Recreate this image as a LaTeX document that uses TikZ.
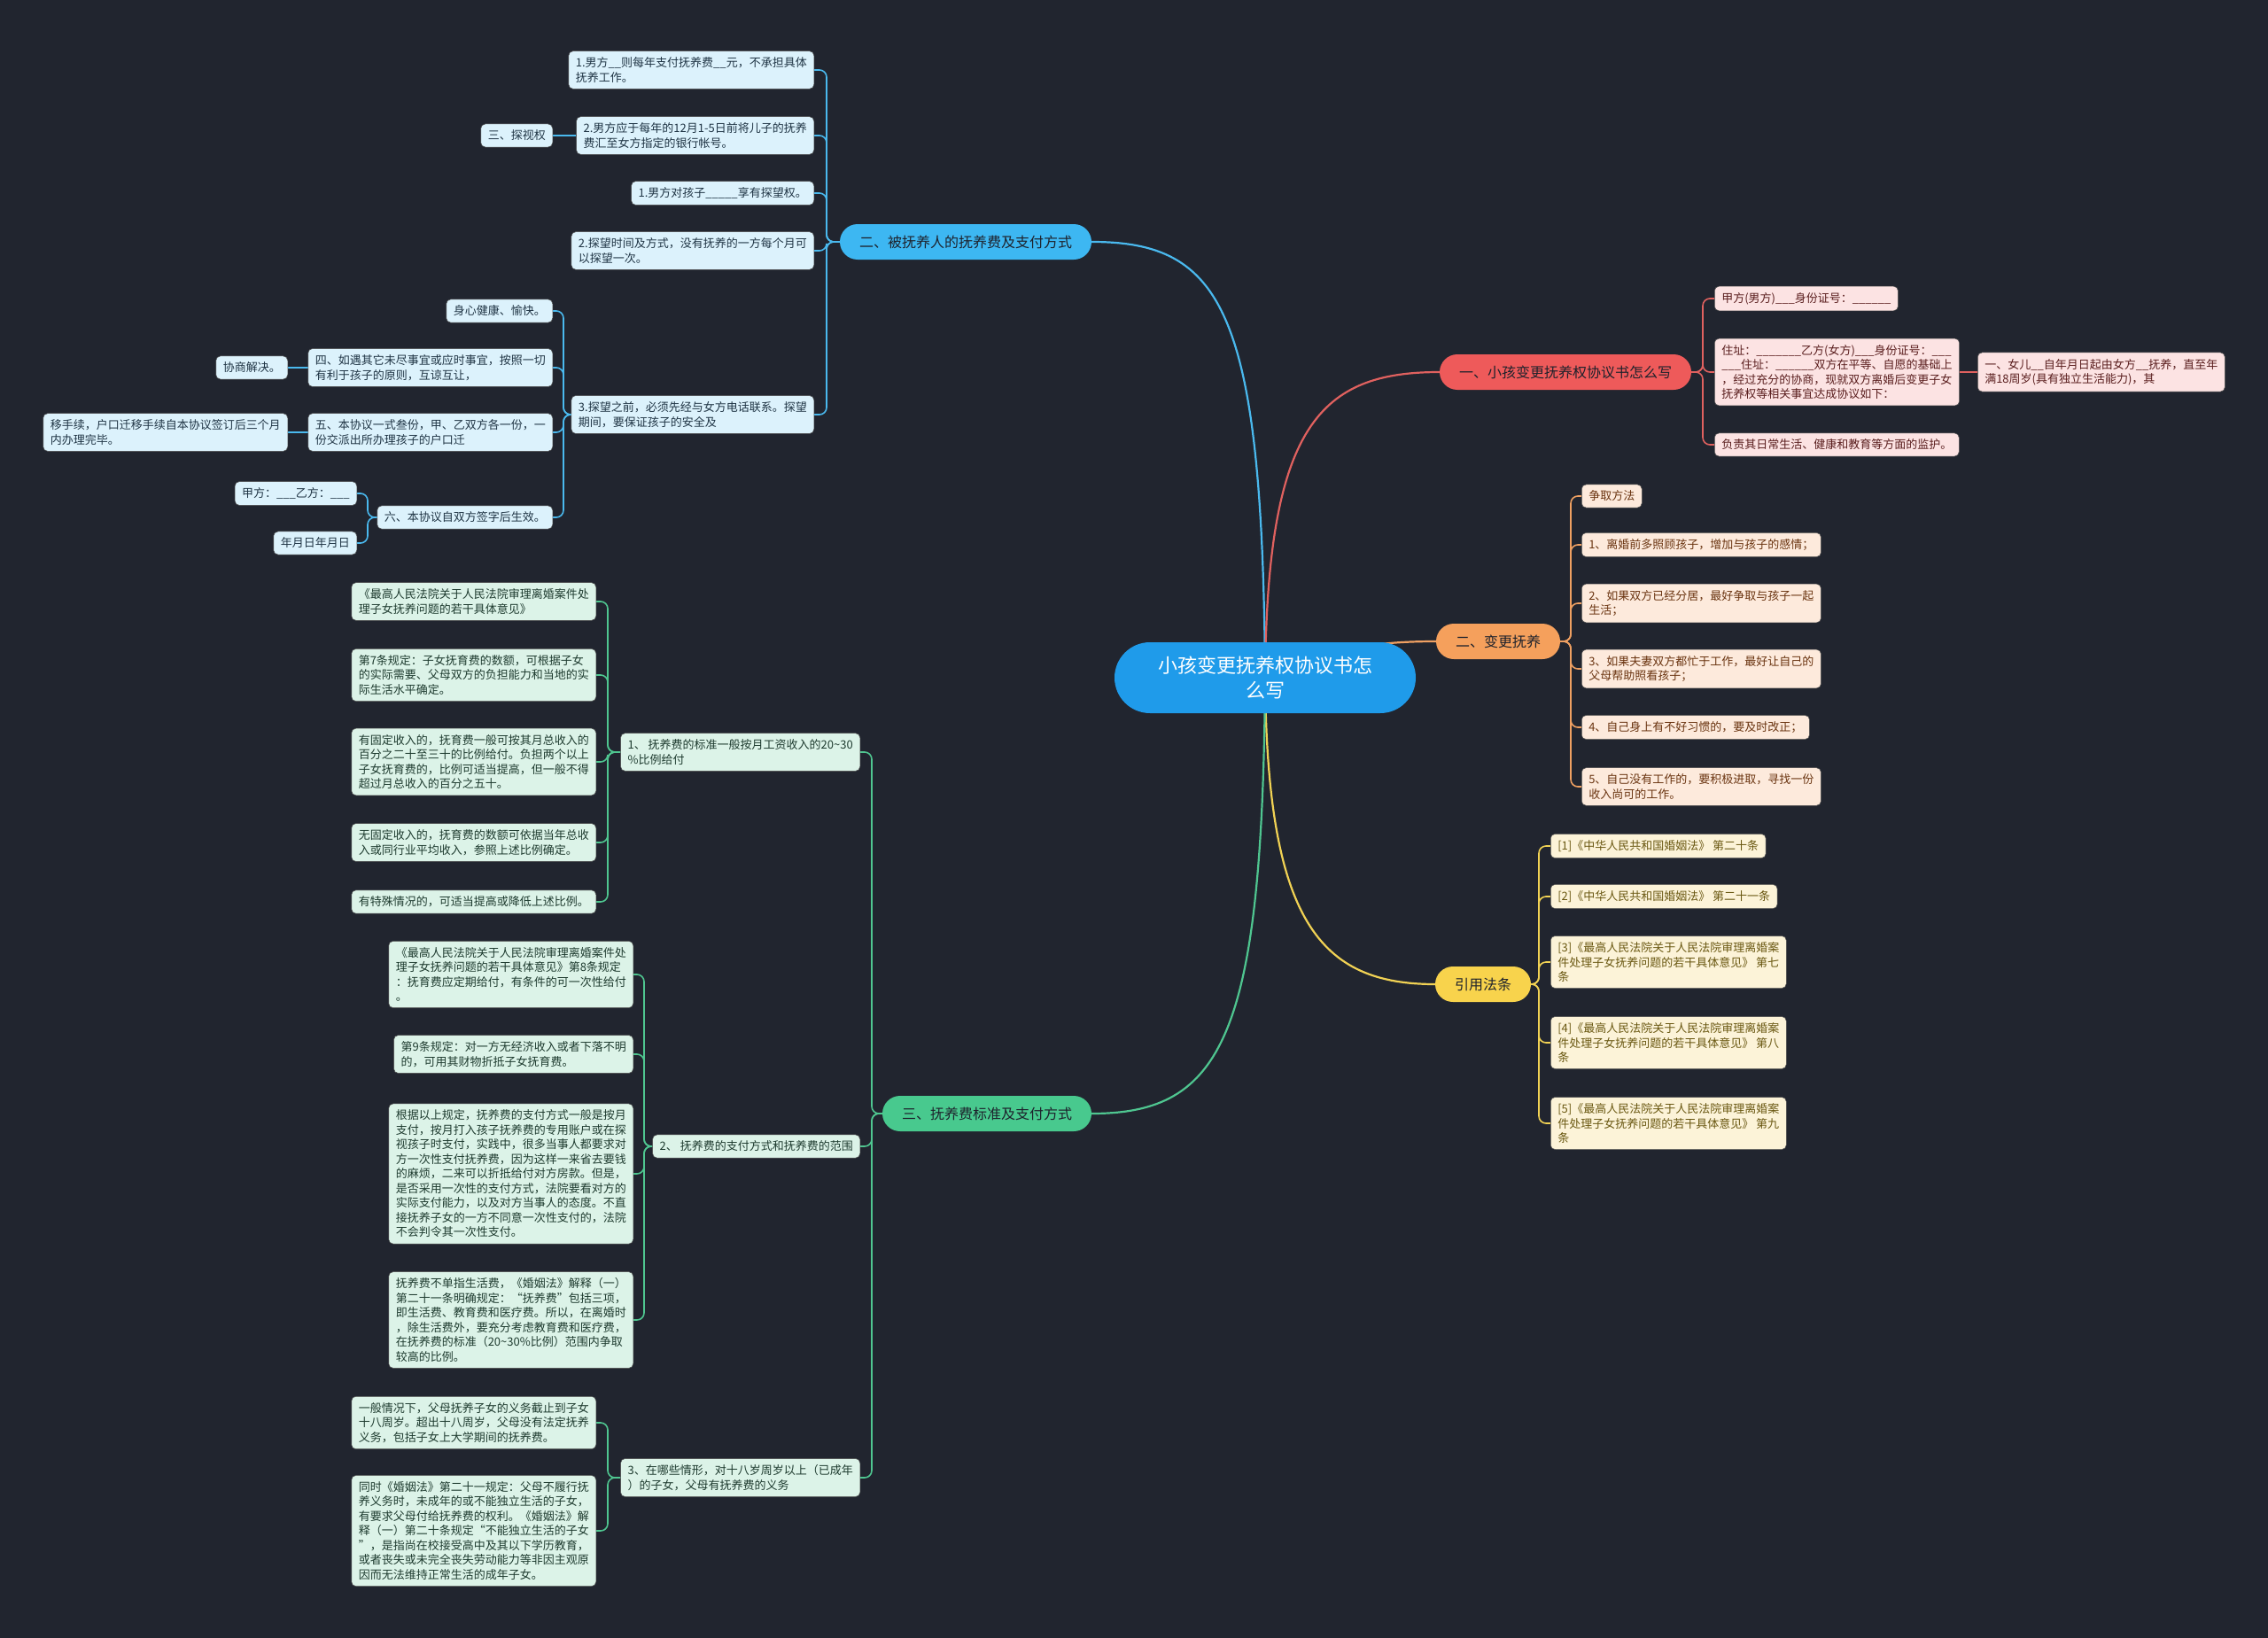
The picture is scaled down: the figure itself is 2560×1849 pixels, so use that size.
\documentclass[tikz,border=0pt]{standalone}
\usepackage{fontspec}
\setmainfont{Noto Sans CJK SC}
\usetikzlibrary{calc}
\pgfdeclarelayer{back}
\pgfdeclarelayer{bg}
\pgfsetlayers{back,bg,main}
\definecolor{bgc}{HTML}{21252F}
\definecolor{rootc}{HTML}{1F9BEA}
\definecolor{dk}{HTML}{1E222C}
\definecolor{blN}{HTML}{3DB7F2}\definecolor{blE}{HTML}{4AB9EE}\definecolor{blF}{HTML}{DCF2FC}\definecolor{blT}{HTML}{203545}
\definecolor{rdN}{HTML}{EE5A5A}\definecolor{rdE}{HTML}{E0615F}\definecolor{rdF}{HTML}{FCE3E3}\definecolor{rdT}{HTML}{5A1E1E}
\definecolor{orN}{HTML}{F5A05C}\definecolor{orE}{HTML}{EFA062}\definecolor{orF}{HTML}{FDEADC}\definecolor{orT}{HTML}{6A3410}
\definecolor{ylN}{HTML}{F8D34C}\definecolor{ylE}{HTML}{F1D254}\definecolor{ylF}{HTML}{FCF3D8}\definecolor{ylT}{HTML}{6A5812}
\definecolor{gnN}{HTML}{48C98E}\definecolor{gnE}{HTML}{4FC690}\definecolor{gnF}{HTML}{DCF3E8}\definecolor{gnT}{HTML}{1E3B2F}
\newcommand\linkR[4]{\draw[#1] (#2.east) -- (#2.east -| #3) |- (#4.west);}
\newcommand\linkL[4]{\draw[#1] (#2.west) -- (#2.west -| #3) |- (#4.east);}
\tikzset{
  leaf/.style={rectangle, rounded corners=5pt, inner xsep=8pt, inner ysep=7pt, align=left,
    font=\fontsize{13}{16.5}\selectfont, draw=black!70, line width=0.5pt},
  lB/.style={leaf, fill=blF, text=blT},
  lR/.style={leaf, fill=rdF, text=rdT},
  lO/.style={leaf, fill=orF, text=orT},
  lY/.style={leaf, fill=ylF, text=ylT},
  lG/.style={leaf, fill=gnF, text=gnT},
  main/.style={rectangle, rounded corners=20pt, minimum height=40pt, inner xsep=22pt, inner ysep=4pt,
    font=\fontsize{16}{20}\selectfont, text=dk},
  rootbox/.style={rectangle, rounded corners=40pt, minimum width=340pt, minimum height=80pt,
    fill=rootc, text=white, align=center, font=\fontsize{22}{28}\selectfont},
  eB/.style={draw=blE, line width=1.6pt, rounded corners=8pt},
  eR/.style={draw=rdE, line width=1.6pt, rounded corners=8pt},
  eO/.style={draw=orE, line width=1.6pt, rounded corners=8pt},
  eY/.style={draw=ylE, line width=1.6pt, rounded corners=8pt},
  eG/.style={draw=gnE, line width=1.6pt, rounded corners=8pt},
  big/.style={line width=2.2pt}
}
\begin{document}
\begin{tikzpicture}[x=1pt,y=-1pt]
\begin{pgfonlayer}{back}
\fill[bgc] (0,0) rectangle (2560,1849);
\end{pgfonlayer}
\useasboundingbox (0,0) rectangle (2560,1849);

% root
\node[rootbox] (root) at (1428,765) {小孩变更抚养权协议书怎\\么写};

% main branches
\node[main, fill=blN] (nB) at (1090,273) {二、被抚养人的抚养费及支付方式};
\node[main, fill=rdN] (nR) at (1767,420) {一、小孩变更抚养权协议书怎么写};
\node[main, fill=orN] (nO) at (1691,724) {二、变更抚养};
\node[main, fill=ylN] (nY) at (1674,1111) {引用法条};
\node[main, fill=gnN] (nG) at (1114,1257) {三、抚养费标准及支付方式};

% trunk coordinates
\coordinate (tB) at (933,0);
\coordinate (tB5) at (636,0);
\coordinate (tB6) at (415,0);
\coordinate (tR) at (1922,0);
\coordinate (tO) at (1773,0);
\coordinate (tY) at (1737,0);
\coordinate (tG) at (984,0);
\coordinate (tG1) at (686,0);
\coordinate (tG2) at (727,0);
\coordinate (tG3) at (686,0);

% blue branch
\node[lB, anchor=east] (b1) at (919,79) {1.男方\_\_则每年支付抚养费\_\_元，不承担具体\\抚养工作。};
\node[lB, anchor=east] (b2) at (919,153) {2.男方应于每年的12月1-5日前将儿子的抚养\\费汇至女方指定的银行帐号。};
\node[lB, anchor=east] (b2L) at (624,153) {三、探视权};
\node[lB, anchor=east] (b3) at (919,218) {1.男方对孩子\_\_\_\_\_享有探望权。};
\node[lB, anchor=east] (b4) at (919,283) {2.探望时间及方式，没有抚养的一方每个月可\\以探望一次。};
\node[lB, anchor=east] (b5) at (919,468) {3.探望之前，必须先经与女方电话联系。探望\\期间，要保证孩子的安全及};
\node[lB, anchor=east] (b5a) at (624,351) {身心健康、愉快。};
\node[lB, anchor=east] (b5b) at (624,415) {四、如遇其它未尽事宜或应时事宜，按照一切\\有利于孩子的原则，互谅互让，};
\node[lB, anchor=east] (b5bL) at (325,415) {协商解决。};
\node[lB, anchor=east] (b5c) at (624,488) {五、本协议一式叁份，甲、乙双方各一份，一\\份交派出所办理孩子的户口迁};
\node[lB, anchor=east] (b5cL) at (325,488) {移手续，户口迁移手续自本协议签订后三个月\\内办理完毕。};
\node[lB, anchor=east] (b5d) at (624,584) {六、本协议自双方签字后生效。};
\node[lB, anchor=east] (b5d1) at (403,557) {甲方：\_\_\_乙方：\_\_\_};
\node[lB, anchor=east] (b5d2) at (403,613) {年月日年月日};

% red branch
\node[lR, anchor=west] (r1) at (1935,337) {甲方(男方)\_\_\_身份证号：\_\_\_\_\_\_};
\node[lR, anchor=west] (r2) at (1935,420) {住址：\_\_\_\_\_\_\_乙方(女方)\_\_\_身份证号：\_\_\_\\\_\_\_住址：\_\_\_\_\_\_双方在平等、自愿的基础上\\，经过充分的协商，现就双方离婚后变更子女\\抚养权等相关事宜达成协议如下：};
\node[lR, anchor=west] (r2R) at (2232,420) {一、女儿\_\_自年月日起由女方\_\_抚养，直至年\\满18周岁(具有独立生活能力)，其};
\node[lR, anchor=west] (r3) at (1935,502) {负责其日常生活、健康和教育等方面的监护。};

% orange branch
\node[lO, anchor=west] (o1) at (1785,560) {争取方法};
\node[lO, anchor=west] (o2) at (1785,615) {1、离婚前多照顾孩子，增加与孩子的感情；};
\node[lO, anchor=west] (o3) at (1785,681) {2、如果双方已经分居，最好争取与孩子一起\\生活；};
\node[lO, anchor=west] (o4) at (1785,755) {3、如果夫妻双方都忙于工作，最好让自己的\\父母帮助照看孩子；};
\node[lO, anchor=west] (o5) at (1785,821) {4、自己身上有不好习惯的，要及时改正；};
\node[lO, anchor=west] (o6) at (1785,888) {5、自己没有工作的，要积极进取，寻找一份\\收入尚可的工作。};

% yellow branch
\node[lY, anchor=west] (y1) at (1750,955) {[1]《中华人民共和国婚姻法》 第二十条};
\node[lY, anchor=west] (y2) at (1750,1012) {[2]《中华人民共和国婚姻法》 第二十一条};
\node[lY, anchor=west] (y3) at (1750,1086) {[3]《最高人民法院关于人民法院审理离婚案\\件处理子女抚养问题的若干具体意见》 第七\\条};
\node[lY, anchor=west] (y4) at (1750,1177) {[4]《最高人民法院关于人民法院审理离婚案\\件处理子女抚养问题的若干具体意见》 第八\\条};
\node[lY, anchor=west] (y5) at (1750,1268) {[5]《最高人民法院关于人民法院审理离婚案\\件处理子女抚养问题的若干具体意见》 第九\\条};

% green branch
\node[lG, anchor=east] (g1) at (971,849) {1、 抚养费的标准一般按月工资收入的20\textasciitilde30\\\%比例给付};
\node[lG, anchor=east] (g2) at (971,1294) {2、 抚养费的支付方式和抚养费的范围};
\node[lG, anchor=east] (g3) at (971,1668) {3、在哪些情形，对十八岁周岁以上（已成年\\）的子女，父母有抚养费的义务};

\node[lG, anchor=east] (g1a) at (673,679) {《最高人民法院关于人民法院审理离婚案件处\\理子女抚养问题的若干具体意见》};
\node[lG, anchor=east] (g1b) at (673,762) {第7条规定：子女抚育费的数额，可根据子女\\的实际需要、父母双方的负担能力和当地的实\\际生活水平确定。};
\node[lG, anchor=east] (g1c) at (673,860) {有固定收入的，抚育费一般可按其月总收入的\\百分之二十至三十的比例给付。负担两个以上\\子女抚育费的，比例可适当提高，但一般不得\\超过月总收入的百分之五十。};
\node[lG, anchor=east] (g1d) at (673,951) {无固定收入的，抚育费的数额可依据当年总收\\入或同行业平均收入，参照上述比例确定。};
\node[lG, anchor=east] (g1e) at (673,1018) {有特殊情况的，可适当提高或降低上述比例。};

\node[lG, anchor=east] (g2a) at (715,1100) {《最高人民法院关于人民法院审理离婚案件处\\理子女抚养问题的若干具体意见》第8条规定\\：抚育费应定期给付，有条件的可一次性给付\\。};
\node[lG, anchor=east] (g2b) at (715,1190) {第9条规定：对一方无经济收入或者下落不明\\的，可用其财物折抵子女抚育费。};
\node[lG, anchor=east] (g2c) at (715,1325) {根据以上规定，抚养费的支付方式一般是按月\\支付，按月打入孩子抚养费的专用账户或在探\\视孩子时支付，实践中，很多当事人都要求对\\方一次性支付抚养费，因为这样一来省去要钱\\的麻烦，二来可以折抵给付对方房款。但是，\\是否采用一次性的支付方式，法院要看对方的\\实际支付能力，以及对方当事人的态度。不直\\接抚养子女的一方不同意一次性支付的，法院\\不会判令其一次性支付。};
\node[lG, anchor=east] (g2d) at (715,1490) {抚养费不单指生活费，《婚姻法》解释（一）\\第二十一条明确规定：“抚养费”包括三项，\\即生活费、教育费和医疗费。所以，在离婚时\\，除生活费外，要充分考虑教育费和医疗费，\\在抚养费的标准（20\textasciitilde30\%比例）范围内争取\\较高的比例。};

\node[lG, anchor=east] (g3a) at (673,1606) {一般情况下，父母抚养子女的义务截止到子女\\十八周岁。超出十八周岁，父母没有法定抚养\\义务，包括子女上大学期间的抚养费。};
\node[lG, anchor=east] (g3b) at (673,1728) {同时《婚姻法》第二十一规定：父母不履行抚\\养义务时，未成年的或不能独立生活的子女，\\有要求父母付给抚养费的权利。《婚姻法》解\\释（一）第二十条规定“不能独立生活的子女\\”，是指尚在校接受高中及其以下学历教育，\\或者丧失或未完全丧失劳动能力等非因主观原\\因而无法维持正常生活的成年子女。};

\begin{pgfonlayer}{bg}
% root edges
\draw[eB,big] (root.center) .. controls (1425,350) and (1380,273) .. (nB.east);
\draw[eR,big] (root.center) .. controls (1430,480) and (1490,420) .. (nR.west);
\draw[eO,big] (root.center) .. controls (1500,730) and (1560,724) .. (nO.west);
\draw[eY,big] (root.center) .. controls (1430,1040) and (1490,1111) .. (nY.west);
\draw[eG,big] (root.center) .. controls (1425,1170) and (1380,1257) .. (nG.east);
% blue
\linkL{eB}{nB}{tB}{b1}
\linkL{eB}{nB}{tB}{b2}
\linkL{eB}{nB}{tB}{b3}
\linkL{eB}{nB}{tB}{b4}
\linkL{eB}{nB}{tB}{b5}
\draw[eB] (b2.west) -- (b2L.east);
\linkL{eB}{b5}{tB5}{b5a}
\linkL{eB}{b5}{tB5}{b5b}
\linkL{eB}{b5}{tB5}{b5c}
\linkL{eB}{b5}{tB5}{b5d}
\draw[eB] (b5b.west) -- (b5bL.east);
\draw[eB] (b5c.west) -- (b5cL.east);
\linkL{eB}{b5d}{tB6}{b5d1}
\linkL{eB}{b5d}{tB6}{b5d2}
% red
\linkR{eR}{nR}{tR}{r1}
\linkR{eR}{nR}{tR}{r2}
\linkR{eR}{nR}{tR}{r3}
\draw[eR] (r2.east) -- (r2R.west);
% orange
\linkR{eO}{nO}{tO}{o1}
\linkR{eO}{nO}{tO}{o2}
\linkR{eO}{nO}{tO}{o3}
\linkR{eO}{nO}{tO}{o4}
\linkR{eO}{nO}{tO}{o5}
\linkR{eO}{nO}{tO}{o6}
% yellow
\linkR{eY}{nY}{tY}{y1}
\linkR{eY}{nY}{tY}{y2}
\linkR{eY}{nY}{tY}{y3}
\linkR{eY}{nY}{tY}{y4}
\linkR{eY}{nY}{tY}{y5}
% green
\linkL{eG}{nG}{tG}{g1}
\linkL{eG}{nG}{tG}{g2}
\linkL{eG}{nG}{tG}{g3}
\linkL{eG}{g1}{tG1}{g1a}
\linkL{eG}{g1}{tG1}{g1b}
\linkL{eG}{g1}{tG1}{g1c}
\linkL{eG}{g1}{tG1}{g1d}
\linkL{eG}{g1}{tG1}{g1e}
\linkL{eG}{g2}{tG2}{g2a}
\linkL{eG}{g2}{tG2}{g2b}
\linkL{eG}{g2}{tG2}{g2c}
\linkL{eG}{g2}{tG2}{g2d}
\linkL{eG}{g3}{tG3}{g3a}
\linkL{eG}{g3}{tG3}{g3b}
\end{pgfonlayer}
\end{tikzpicture}
\end{document}
